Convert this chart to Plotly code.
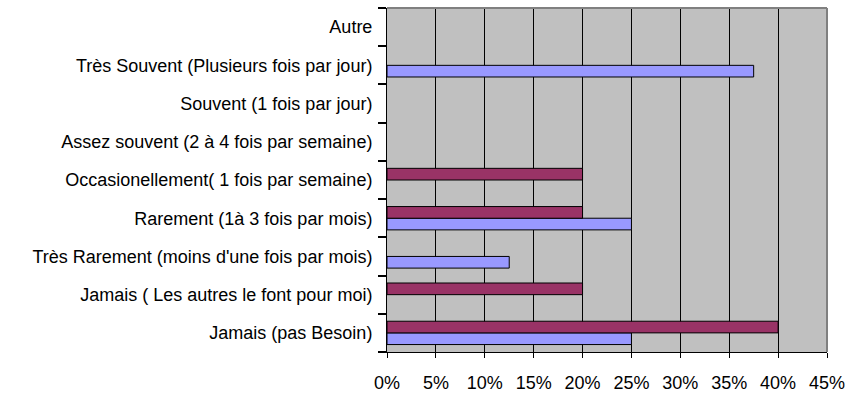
import plotly.graph_objects as go

# Response categories, listed bottom to top as they appear on the axis
categories = [
    "Jamais (pas Besoin)",
    "Jamais ( Les autres le font pour moi)",
    "Très Rarement (moins d'une fois par mois)",
    "Rarement (1à 3 fois par mois)",
    "Occasionellement( 1 fois par semaine)",
    "Assez souvent (2 à 4 fois par semaine)",
    "Souvent (1 fois par jour)",
    "Très Souvent (Plusieurs fois par jour)",
    "Autre",
]

# Share of respondents per series (fractions); None = no answer in that category
series_blue = [0.25, None, 0.125, 0.25, None, None, None, 0.375, None]
series_maroon = [0.40, 0.20, None, 0.20, 0.20, None, None, None, None]

x_ticks = [i * 0.05 for i in range(10)]
x_tick_labels = [f"{i * 5}%" for i in range(10)]

# Category slots on a numeric axis so boundary tick marks can be drawn as minor ticks
slots = list(range(len(categories)))

fig = go.Figure()
fig.add_trace(go.Bar(
    y=slots, x=series_blue, orientation="h",
    marker=dict(color="#9999FF", line=dict(color="#000000", width=1)),
    hovertext=categories, hoverinfo="x+text",
    showlegend=False,
))
fig.add_trace(go.Bar(
    y=slots, x=series_maroon, orientation="h",
    marker=dict(color="#993366", line=dict(color="#000000", width=1)),
    hovertext=categories, hoverinfo="x+text",
    showlegend=False,
))

fig.update_layout(
    width=858, height=401,
    margin=dict(l=387, r=31, t=8, b=39),
    paper_bgcolor="white",
    plot_bgcolor="#C0C0C0",
    barmode="group",
    bargap=0.39,
    bargroupgap=0,
    font=dict(family="Liberation Sans, Arial, sans-serif", size=18, color="#000000"),
    xaxis=dict(
        range=[0, 0.45],
        tickvals=x_ticks, ticktext=x_tick_labels,
        showgrid=True, gridcolor="#000000", gridwidth=1,
        zeroline=False,
        showline=True, linecolor="#000000", linewidth=1,
        ticks="outside", ticklen=5, tickwidth=1, tickcolor="#000000",
        ticklabelstandoff=9,
        fixedrange=True,
    ),
    yaxis=dict(
        type="linear",
        range=[-0.5, len(categories) - 0.5],
        tickvals=slots, ticktext=categories,
        ticks="outside", ticklen=0, tickwidth=0,
        ticklabelstandoff=10,
        # tick marks sit on the boundaries between categories
        minor=dict(tickmode="linear", tick0=-0.5, dtick=1, ticks="outside",
                   ticklen=8, tickwidth=1.5, tickcolor="#000000", showgrid=False),
        showgrid=False, zeroline=False,
        showline=True, linecolor="#000000", linewidth=1,
        fixedrange=True,
    ),
    shapes=[
        dict(type="line", xref="paper", yref="paper", x0=0, x1=1, y0=1, y1=1,
             line=dict(color="#808080", width=2)),
        dict(type="line", xref="paper", yref="paper", x0=1, x1=1, y0=0, y1=1,
             line=dict(color="#808080", width=2)),
    ],
)

fig.write_html("out.html")
